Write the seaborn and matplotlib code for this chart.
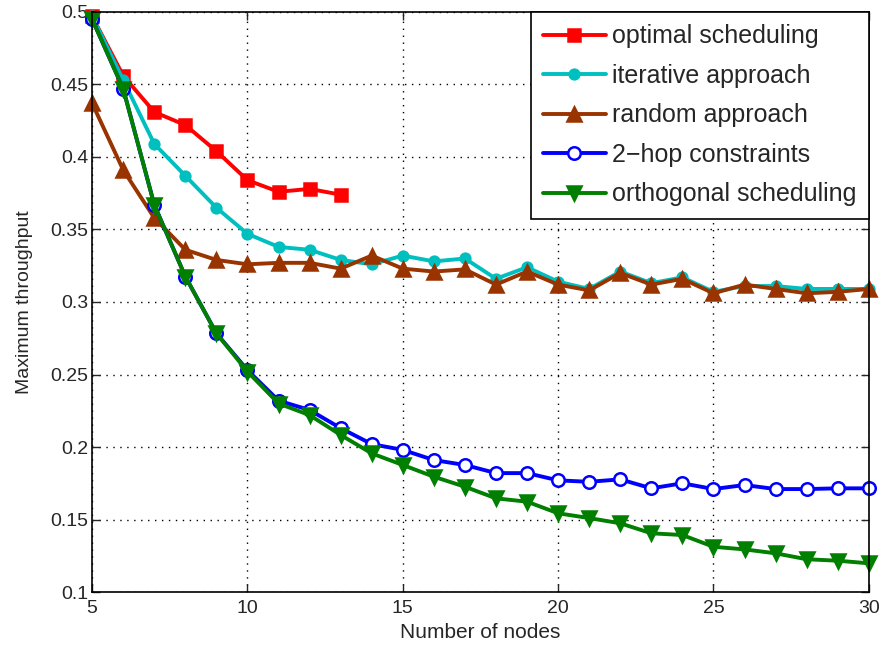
import numpy as np
import pandas as pd
import matplotlib
matplotlib.use("Agg")
import matplotlib.pyplot as plt
import seaborn as sns

# ─────────────────────────────────────────────
# Data
# ─────────────────────────────────────────────
nodes = list(range(5, 31))
nodes_optimal = list(range(5, 14))

optimal = [0.497, 0.456, 0.431, 0.422, 0.404, 0.384, 0.376, 0.378, 0.374]
iterative = [0.497, 0.453, 0.409, 0.387, 0.365, 0.347, 0.338, 0.336, 0.329, 0.326,
             0.332, 0.328, 0.330, 0.316, 0.324, 0.314, 0.309, 0.321, 0.313, 0.317,
             0.307, 0.311, 0.311, 0.309, 0.309, 0.309]
random_appr = [0.437, 0.391, 0.358, 0.336, 0.329, 0.326, 0.327, 0.327, 0.323, 0.332,
               0.323, 0.321, 0.3225, 0.312, 0.321, 0.312, 0.308, 0.320, 0.312, 0.316,
               0.306, 0.312, 0.309, 0.306, 0.307, 0.309]
two_hop = [0.495, 0.447, 0.367, 0.3175, 0.2784, 0.253, 0.232, 0.2255, 0.213, 0.202,
           0.198, 0.191, 0.1876, 0.182, 0.182, 0.177, 0.176, 0.1777, 0.1715, 0.175,
           0.171, 0.1738, 0.171, 0.171, 0.1715, 0.1715]
orthogonal = [0.495, 0.447, 0.367, 0.3175, 0.2784, 0.252, 0.230, 0.222, 0.2083, 0.1956,
              0.1876, 0.1795, 0.1726, 0.1646, 0.1623, 0.1543, 0.151, 0.1474, 0.1405, 0.1393,
              0.1312, 0.1294, 0.1267, 0.1226, 0.1216, 0.1198]

labels = ["optimal scheduling", "iterative approach", "random approach",
          "2\u2212hop constraints", "orthogonal scheduling"]

# ─────────────────────────────────────────────
# Style
# ─────────────────────────────────────────────
sns.set_style("white")
plt.rcParams["font.family"] = ["Liberation Sans", "DejaVu Sans"]

series = [
    (nodes_optimal, optimal, labels[0], "#ff0000", "s", 9, "#ff0000"),
    (nodes, iterative, labels[1], "#00bfbf", "o", 7, "#00bfbf"),
    (nodes, random_appr, labels[2], "#993300", "^", 10, "#993300"),
    (nodes, two_hop, labels[3], "#0000ff", "o", 9, "white"),
    (nodes, orthogonal, labels[4], "#007f00", "v", 10, "#007f00"),
]

fig = plt.figure(figsize=(8.82, 6.51), dpi=100)
ax = fig.add_axes([0.1045, 0.0906, 0.8805, 0.891])

for xs, ys, lab, col, mk, ms, mfc in series:
    df = pd.DataFrame({"nodes": xs, "throughput": ys})
    sns.lineplot(data=df, x="nodes", y="throughput", ax=ax, color=col, label=lab,
                 marker=mk, markersize=ms, markerfacecolor=mfc, markeredgecolor=col,
                 markeredgewidth=1.8, linewidth=2.8, clip_on=False)

ax.set_xlim(5, 30)
ax.set_ylim(0.1, 0.5)
ax.set_xticks([5, 10, 15, 20, 25, 30])
ax.set_yticks(np.arange(0.1, 0.501, 0.05))
ax.set_yticklabels(["0.1", "0.15", "0.2", "0.25", "0.3", "0.35", "0.4", "0.45", "0.5"])
ax.tick_params(direction="in", length=6, width=1, labelsize=14, pad=6,
               top=True, right=True, bottom=True, left=True)
ax.tick_params(axis="y", pad=3)
ax.grid(True, linestyle=(0, (1, 4)), color="black", linewidth=1.0)
for sp in ax.spines.values():
    sp.set_color("black")
    sp.set_linewidth(1.2)

ax.set_xlabel("Number of nodes", fontsize=15, labelpad=4)
ax.set_ylabel("Maximum throughput", fontsize=14, labelpad=12)

leg = ax.legend(loc="upper right", fontsize=18, frameon=True, fancybox=False,
                edgecolor="black", framealpha=1, borderaxespad=0, handlelength=2.5,
                labelspacing=0.62, borderpad=0.5, handletextpad=0.25)
leg.get_frame().set_linewidth(1.2)

fig.savefig("out.png", dpi=100)
